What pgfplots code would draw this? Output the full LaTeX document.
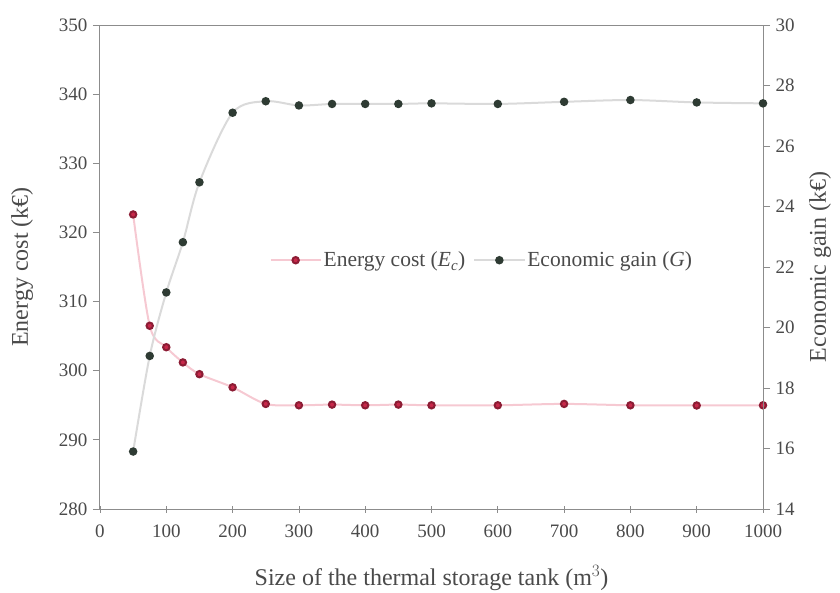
\documentclass[border=0pt]{standalone}
\usepackage{pgfplots}
\pgfplotsset{compat=1.18}
\usepackage{fontspec}
\setmainfont{Liberation Serif}
\definecolor{axgray}{HTML}{8C8C8C}
\definecolor{txtgray}{HTML}{4A4A4A}
\definecolor{ecred}{HTML}{C8284A}
\definecolor{gdark}{HTML}{2E3B33}
\definecolor{redline}{HTML}{F6C9D2}
\definecolor{grayline}{HTML}{DADADA}
\begin{document}
\begin{tikzpicture}
\path[use as bounding box] (-100pt,-83pt) rectangle (740pt,509pt);
\begin{axis}[
  at={(0,0)}, anchor=south west,
  scale only axis, width=663pt, height=484pt,
  xmin=0, xmax=1000, ymin=280, ymax=350,
  xtick={0,100,...,1000}, ytick={280,290,...,350},
  xtick pos=bottom, ytick pos=left,
  axis line style={axgray, line width=1pt},
  major tick style={axgray, line width=0.8pt},
  major tick length=7pt,
  x tick style={/pgfplots/tick align=center},
  tick align=outside,
  ticklabel style={font=\fontsize{19}{22}\selectfont, text=txtgray},
  /pgf/number format/assume math mode=true,
  /pgf/number format/1000 sep={},
  xticklabel style={yshift=-5pt},
  yticklabel style={xshift=-2pt},
  xlabel={Size of the thermal storage tank (m$^3$)},
  ylabel={Energy cost (k€)},
  label style={font=\fontsize{24}{27}\selectfont, text=txtgray},
  xlabel style={at={(axis description cs:0.5,0)}, anchor=center, yshift=-69pt},
  ylabel style={at={(axis description cs:-0.1176,0.5)}, anchor=center},
  clip=false,
]
\addplot[redline, line width=2pt, smooth, mark=*, mark size=3.2pt,
  mark options={ecred, fill=ecred, draw=ecred!70!black}] coordinates {
(50,322.6) (75,306.5) (100,303.4) (125,301.2) (150,299.5) (200,297.6)
(250,295.2) (300,295.0) (350,295.1) (400,295.0) (450,295.1) (500,295.0)
(600,295.0) (700,295.2) (800,295.0) (900,294.97) (1000,295.0)};
\end{axis}
\begin{axis}[
  at={(0,0)}, anchor=south west,
  scale only axis, width=663pt, height=484pt,
  xmin=0, xmax=1000, ymin=14, ymax=30,
  axis x line=none,
  axis y line*=right,
  ytick={14,16,...,30},
  axis line style={axgray, line width=1pt},
  major tick style={axgray, line width=0.8pt},
  major tick length=7pt,
  tick align=outside,
  ticklabel style={font=\fontsize{19}{22}\selectfont, text=txtgray},
  /pgf/number format/assume math mode=true,
  yticklabel style={xshift=2pt},
  ylabel={Economic gain (k€)},
  label style={font=\fontsize{24}{27}\selectfont, text=txtgray},
  ylabel style={at={(axis description cs:1.086,0.5)}, anchor=center},
  legend style={at={(0.576,0.514)}, anchor=center, draw=none, fill=none,
    font=\fontsize{21.5}{24}\selectfont, text=txtgray, legend columns=2,
    /tikz/every even column/.append style={column sep=6pt}},
  legend cell align=left,
  legend image code/.code={%
    \draw[mark repeat=2, mark phase=2, #1] plot coordinates {(0pt,0pt) (25pt,0pt) (50pt,0pt)};},
  clip=false,
]
\addlegendimage{redline, line width=2pt, mark=*, mark size=3.2pt,
  mark options={ecred, fill=ecred, draw=ecred!70!black}}
\addlegendentry{Energy cost (\textit{E}\textsubscript{\textit{c}})}
\addplot[grayline, line width=2pt, smooth, mark=*, mark size=3.2pt,
  mark options={gdark, fill=gdark, draw=gdark}] coordinates {
(50,15.9) (75,19.06) (100,21.16) (125,22.82) (150,24.8) (200,27.1)
(250,27.48) (300,27.34) (350,27.39) (400,27.39) (450,27.39) (500,27.41)
(600,27.39) (700,27.46) (800,27.52) (900,27.44) (1000,27.41)};
\addlegendentry{Economic gain (\textit{G})}
\end{axis}
\end{tikzpicture}
\end{document}
